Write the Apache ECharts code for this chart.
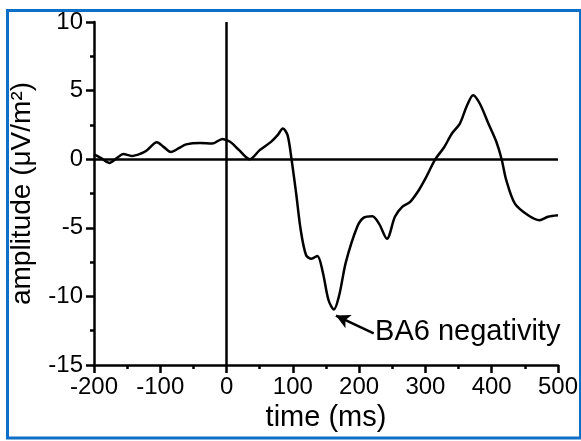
<!DOCTYPE html>
<html>
<head>
<meta charset="utf-8">
<script src="https://cdn.jsdelivr.net/npm/echarts@6/dist/echarts.min.js"></script>
<style>
  html, body { margin: 0; padding: 0; background: #fff; }
  #chart { width: 581px; height: 441px; }
</style>
</head>
<body>
<div id="chart"></div>
<script>
// waveform (time in ms, amplitude in uV/m^2)
const timeMs = [-200, -190, -177, -165, -156, -143, -130, -121, -105, -95, -84, -72, -61, -40, -22, -6, 2, 8, 19, 35,
  50, 67, 77, 85, 92, 98, 105, 112, 120, 128, 137, 145, 154, 162, 170, 180, 197, 207, 220,
  230, 242, 254, 265, 277, 290, 300, 315, 328, 340, 352, 362, 372, 382, 395, 407, 415, 422, 435, 455,
  472, 485, 500];
const amplitude = [0.35, 0.1, -0.27, 0.1, 0.38, 0.24, 0.4, 0.62, 1.24, 0.9, 0.53, 0.8, 1.08, 1.18, 1.14, 1.48, 1.35, 1.17, 0.66, 0.0,
  0.66, 1.26, 1.75, 2.24, 1.75, 0.0, -2.5, -5.2, -7.0, -7.25, -7.05, -8.2, -10.3, -10.95, -9.9, -7.5, -4.94, -4.26, -4.16,
  -4.7, -5.8, -4.2, -3.48, -3.11, -2.26, -1.41, 0.0, 0.85, 1.87, 2.6, 3.82, 4.67, 4.06, 2.6, 1.27, 0.0, -1.53, -3.24, -4.09,
  -4.45, -4.2, -4.09];

// annotation: arrow tail/tip and label anchor, in data coordinates
const arrowFrom = [222, -12.7];
const arrowTo = [165, -11.4];
const noteText = 'BA6 negativity';
const noteAt = [224, -12.6];

const FONT = "'Liberation Sans', Arial, sans-serif";
const LW = 2.5;

const chart = echarts.init(document.getElementById('chart'));

const data = timeMs.map((t, i) => [t, amplitude[i]]);

chart.setOption({
  backgroundColor: '#fff',
  animation: false,
  grid: {
    left: 93,
    right: 21,
    top: 22,
    bottom: 76
  },
  xAxis: {
    type: 'value',
    min: -200,
    max: 500,
    interval: 100,
    name: 'time (ms)',
    nameLocation: 'middle',
    nameGap: 37,
    nameTextStyle: { color: '#000', fontSize: 29, fontFamily: FONT },
    axisLine: { onZero: false, lineStyle: { color: '#000', width: LW } },
    axisTick: { length: 8, lineStyle: { color: '#000', width: LW } },
    minorTick: { show: true, splitNumber: 2, length: 4, lineStyle: { color: '#000', width: LW } },
    axisLabel: { color: '#000', fontSize: 24, fontFamily: FONT, margin: 10 },
    splitLine: { show: false }
  },
  yAxis: {
    type: 'value',
    min: -15,
    max: 10,
    interval: 5,
    name: 'amplitude (μV/m²)',
    nameLocation: 'middle',
    nameGap: 58,
    nameTextStyle: { color: '#000', fontSize: 28, fontFamily: FONT },
    axisLine: { show: true, onZero: false, lineStyle: { color: '#000', width: LW } },
    axisTick: { show: true, length: 8, lineStyle: { color: '#000', width: LW } },
    minorTick: { show: true, splitNumber: 2, length: 4, lineStyle: { color: '#000', width: LW } },
    axisLabel: { color: '#000', fontSize: 24, fontFamily: FONT, margin: 11 },
    splitLine: { show: false }
  },
  series: [{
    type: 'line',
    data: data,
    smooth: 0.3,
    showSymbol: false,
    lineStyle: { color: '#000', width: LW },
    markLine: {
      silent: true,
      animation: false,
      symbol: ['none', 'none'],
      label: { show: false },
      lineStyle: { color: '#000', width: LW, type: 'solid' },
      data: [
        { yAxis: 0 },
        { xAxis: 0 },
        [
          { coord: arrowFrom, symbol: 'none' },
          { coord: arrowTo, symbol: 'arrow', symbolSize: [11, 14] }
        ]
      ]
    },
    markPoint: {
      silent: true,
      animation: false,
      symbol: 'circle',
      symbolSize: 0,
      data: [{ coord: noteAt }],
      label: {
        show: true,
        position: 'right',
        distance: 0,
        formatter: noteText,
        color: '#000',
        fontSize: 29,
        fontFamily: FONT
      }
    }
  }],
  graphic: [{
    type: 'rect',
    silent: true,
    shape: { x: 7.5, y: 10.5, width: 573, height: 427.5 },
    style: { fill: 'none', stroke: '#0f6fc6', lineWidth: 3 }
  }]
});
</script>
</body>
</html>
